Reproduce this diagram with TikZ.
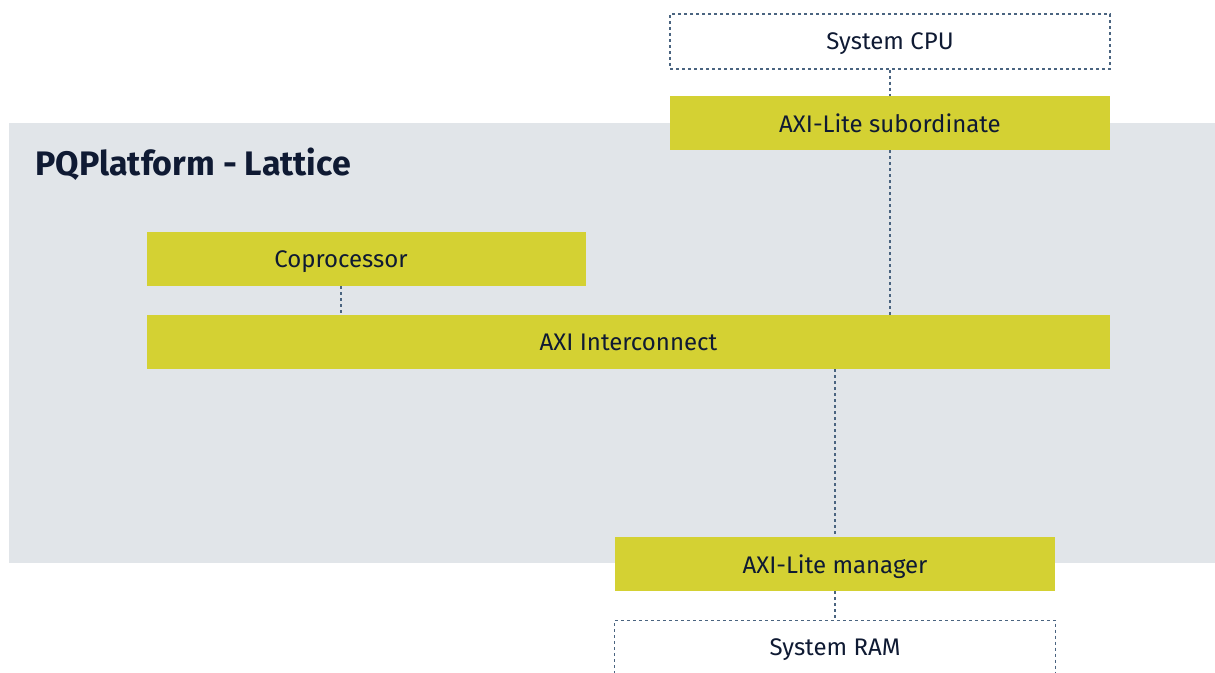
\documentclass[tikz,border=0pt]{standalone}
\usepackage{fontspec}
\setmainfont{Fira Sans}
\usetikzlibrary{positioning}
\definecolor{lime}{HTML}{D4D133}
\definecolor{platgray}{HTML}{E1E5E9}
\definecolor{dashblue}{HTML}{4A6480}
\definecolor{inkblue}{HTML}{0F1A33}
\begin{document}
\begin{tikzpicture}[
    x=0.5pt, y=-0.5pt,
    block/.style={
        fill=lime,
        minimum height=27pt,
        inner sep=0pt,
        text=inkblue,
        text depth=0pt,
        font=\fontsize{12}{14}\selectfont
    },
    extbox/.style={
        draw=dashblue,
        line width=0.55pt,
        dash pattern=on 1.5pt off 1.5pt,
        minimum width=220pt,
        minimum height=27.5pt,
        inner sep=0pt,
        text=inkblue,
        text depth=0pt,
        font=\fontsize{12}{14}\selectfont
    },
    lbl/.style={
        text=inkblue,
        inner sep=0pt,
        text depth=0pt,
        font=\fontsize{12}{14}\selectfont
    },
    link/.style={
        draw=dashblue,
        line width=0.55pt,
        dash pattern=on 1.5pt off 1.5pt
    }
    ]
    \useasboundingbox (0,0) rectangle (1215,673);
    \fill[platgray] (9,123) rectangle (1215,563);
    \node[anchor=west, text=inkblue, inner sep=0pt, font=\fontsize{17}{20}\selectfont\bfseries] (title) at (35,164) {PQPlatform - Lattice};

    \node[extbox] (cpu) at (890,41.5) {System CPU};
    \node[block, minimum width=220pt] (sub) at (890,123) {AXI-Lite subordinate};
    \node[block, minimum width=219.5pt] (cop) at (366.5,259) {};
    \node[lbl] (coptxt) at (341,259) {Coprocessor};
    \node[block, minimum width=481.5pt] (ic) at (628.5,342) {AXI Interconnect};
    \node[block, minimum width=220pt] (mgr) at (835,564) {AXI-Lite manager};

    % System RAM runs off the bottom edge
    \node[lbl, minimum width=220pt, minimum height=26.5pt] (ram) at (835,647) {System RAM};
    \draw[link] (ram.south west) -- (ram.north west) -- (ram.north east) -- (ram.south east);

    \draw[link] (cpu.south) -- (sub.north);
    \draw[link] (sub.south) -- (sub.south |- ic.north);
    \draw[link] (coptxt |- cop.south) -- (coptxt |- ic.north);
    \draw[link] (mgr.north |- ic.south) -- (mgr.north);
    \draw[link] (mgr.south) -- (ram.north);
\end{tikzpicture}
\end{document}
